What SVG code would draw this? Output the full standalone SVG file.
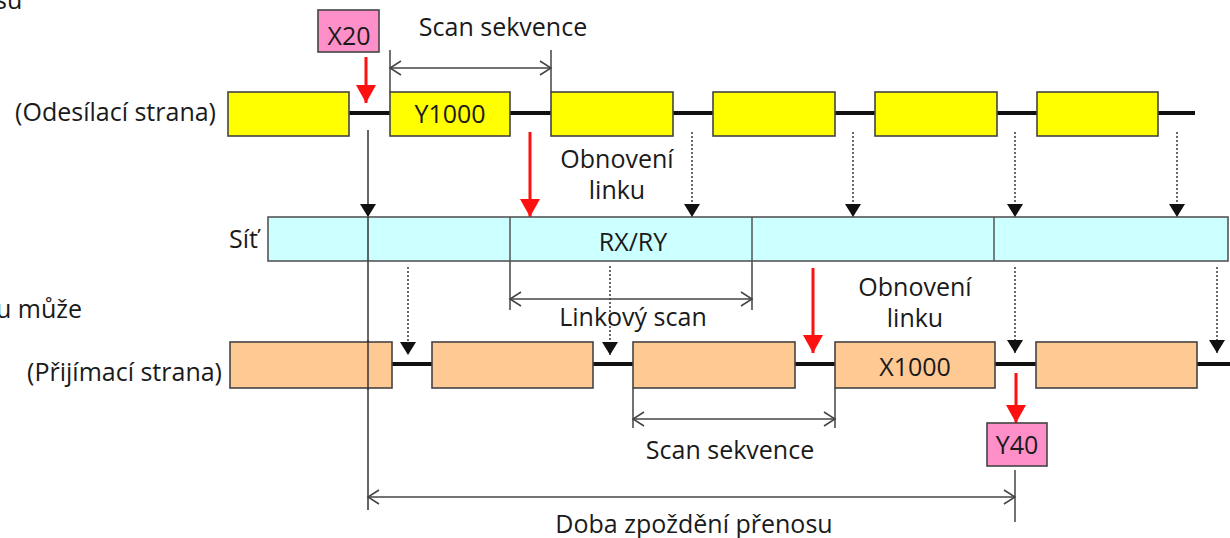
<svg xmlns="http://www.w3.org/2000/svg" width="1230" height="538" viewBox="0 0 1230 538">
<style>
text{font-family:"Open Sans","Noto Sans","DejaVu Sans",sans-serif;font-size:25px;fill:#1a1a1a}
.mid{text-anchor:middle}
.end{text-anchor:end}
.yel{fill:#FFFF00;stroke:#444;stroke-width:1.6}
.org{fill:#FFC994;stroke:#444;stroke-width:1.6}
.net{fill:#CCFFFF;stroke:#555;stroke-width:1.6}
.pink{fill:#FF8FC8;stroke:#444;stroke-width:1.6}
.tl{stroke:#111;stroke-width:4;fill:none}
.dim{stroke:#444;stroke-width:1.5;fill:none}
.solid{stroke:#333;stroke-width:1.5;fill:none}
.dot{stroke:#444;stroke-width:1.6;stroke-dasharray:2 2;fill:none}
.red{stroke:#FF1010;stroke-width:3;fill:none}
</style>
<defs>
<marker id="tri" markerUnits="userSpaceOnUse" markerWidth="20" markerHeight="20" refX="13" refY="0" orient="auto" overflow="visible">
<path d="M0,-8 L13,0 L0,8 z" fill="#111"/>
</marker>
<marker id="redtri" markerUnits="userSpaceOnUse" markerWidth="24" markerHeight="24" refX="18" refY="0" orient="auto" overflow="visible">
<path d="M0,-10 L18,0 L0,10 z" fill="#FF1010"/>
</marker>
<marker id="open" markerUnits="userSpaceOnUse" markerWidth="20" markerHeight="20" refX="0" refY="0" orient="auto-start-reverse" overflow="visible">
<path d="M-11,-7 L0,0 L-11,7" fill="none" stroke="#444" stroke-width="1.5"/>
</marker>
</defs>
<rect width="1230" height="538" fill="#fff"/>

<text x="-5" y="9">su</text>
<text x="-4" y="318">u může</text>

<g id="send-label"><text class="end" x="216" y="121">(Odesílací strana)</text></g>
<g id="net-label"><text class="end" x="258" y="248">Síť</text></g>
<g id="recv-label"><text class="end" x="222" y="381">(Přijímací strana)</text></g>

<g id="connectors">
<path class="tl" d="M349,113 H1195"/>
<path class="tl" d="M392,364 H1230"/>
<path class="dim" d="M390,50 V92 M551,50 V92"/>
<path class="dim" d="M390,68 H551" marker-start="url(#open)" marker-end="url(#open)"/>
<path class="red" d="M366,57 V103" marker-end="url(#redtri)"/>
<path class="solid" d="M368,130 V217" marker-end="url(#tri)"/>
<path class="solid" d="M368,217 V510"/>
<path class="red" d="M530,132 V217" marker-end="url(#redtri)"/>
<path class="dot" d="M692,132 V217" marker-end="url(#tri)"/>
<path class="dot" d="M853,132 V217" marker-end="url(#tri)"/>
<path class="dot" d="M1015,132 V217" marker-end="url(#tri)"/>
<path class="dot" d="M1177,132 V217" marker-end="url(#tri)"/>
<path class="dim" d="M510,261 V310 M752,261 V310"/>
<path class="dim" d="M510,299 H752" marker-start="url(#open)" marker-end="url(#open)"/>
<path class="dot" d="M408,267 V355" marker-end="url(#tri)"/>
<path class="dot" d="M610,266 V355" marker-end="url(#tri)"/>
<path class="dot" d="M1015,267 V353" marker-end="url(#tri)"/>
<path class="dot" d="M1217,267 V353" marker-end="url(#tri)"/>
<path class="red" d="M813,268 V353" marker-end="url(#redtri)"/>
<path class="red" d="M1016,373 V423" marker-end="url(#redtri)"/>
<path class="dim" d="M633,388 V428 M835,388 V428"/>
<path class="dim" d="M633,419 H835" marker-start="url(#open)" marker-end="url(#open)"/>
<path class="dim" d="M1015,470 V522"/>
<path class="dim" d="M368,497 H1015" marker-start="url(#open)" marker-end="url(#open)"/>
</g>

<g id="x20"><rect class="pink" x="318" y="10" width="61" height="42"/><text class="mid" x="349" y="45">X20</text></g>

<g id="s1"><rect class="yel" x="228" y="92" width="121" height="44"/></g>
<g id="s2"><rect class="yel" x="390" y="92" width="120" height="44"/><text class="mid" x="450" y="123">Y1000</text></g>
<g id="s3"><rect class="yel" x="551" y="92" width="122" height="44"/></g>
<g id="s4"><rect class="yel" x="713" y="92" width="122" height="44"/></g>
<g id="s5"><rect class="yel" x="875" y="92" width="122" height="44"/></g>
<g id="s6"><rect class="yel" x="1037" y="92" width="121" height="44"/></g>

<g id="network">
<rect class="net" x="268" y="217" width="960" height="44"/>
<path d="M510,217 V261 M752,217 V261 M994,217 V261" stroke="#555" stroke-width="1.5"/>
<text class="mid" x="633" y="251">RX/RY</text>
</g>
<g id="net-crossing"><path class="solid" d="M368,217 V261"/></g>

<g id="r1"><rect class="org" x="230" y="342" width="162" height="46"/></g>
<g id="r2"><rect class="org" x="432" y="342" width="161" height="46"/></g>
<g id="r3"><rect class="org" x="633" y="342" width="162" height="46"/></g>
<g id="r4"><rect class="org" x="835" y="342" width="160" height="46"/><text class="mid" x="915" y="376">X1000</text></g>
<g id="r5"><rect class="org" x="1036" y="342" width="161" height="46"/></g>
<g id="recv-crossing"><path class="solid" d="M368,340 V390"/></g>

<g id="y40"><rect class="pink" x="987" y="423" width="60" height="43"/><text class="mid" x="1017" y="454">Y40</text></g>

<g id="labels">
<text class="mid" x="503" y="36">Scan sekvence</text>
<text class="mid" x="617" y="168">Obnovení</text>
<text class="mid" x="617" y="199">linku</text>
<text class="mid" x="633" y="326">Linkový scan</text>
<text class="mid" x="915" y="296">Obnovení</text>
<text class="mid" x="915" y="327">linku</text>
<text class="mid" x="730" y="459">Scan sekvence</text>
<text class="mid" x="694" y="533">Doba zpoždění přenosu</text>
</g>
</svg>
